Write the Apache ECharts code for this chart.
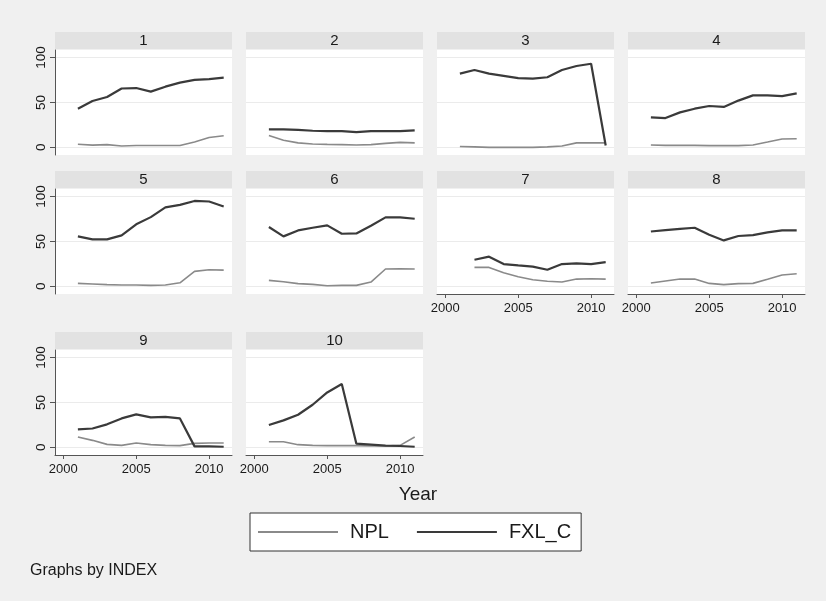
<!DOCTYPE html>
<html>
<head>
<meta charset="utf-8">
<script src="https://cdn.jsdelivr.net/npm/echarts@6/dist/echarts.min.js"></script>
<style>
html,body{margin:0;padding:0;background:#f0f0f0;}
#c{width:826px;height:601px;}
</style>
</head>
<body>
<div id="c"></div>
<script>
// ---- data ----
const years = [2001, 2002, 2003, 2004, 2005, 2006, 2007, 2008, 2009, 2010, 2011];
const panelLabels = ['1', '2', '3', '4', '5', '6', '7', '8', '9', '10'];
const npl1 = [3.5, 2.5, 3, 1.5, 2, 2, 2, 2, 6, 11, 13];
const fxl1 = [43, 51.5, 56, 65.5, 66, 62, 67.5, 72, 75, 76, 77.5];
const npl2 = [13.3, 8, 5, 3.7, 3.3, 3, 2.6, 3, 4.4, 5.5, 5];
const fxl2 = [20, 20, 19.5, 18.5, 18, 18, 17, 18, 18, 18, 19];
const npl3 = [1, 0.5, 0, 0, 0, 0, 0.5, 1.5, 5, 5, 5];
const fxl3 = [82, 86, 82, 79.5, 77, 76.5, 78, 86, 90.5, 93, 2];
const npl4 = [2.6, 2.2, 2.2, 2.2, 1.9, 1.9, 1.9, 2.6, 5.9, 9.3, 9.6];
const fxl4 = [33.3, 32.6, 38.9, 43, 46, 45, 52, 57.8, 57.8, 57, 60];
const npl5 = [3.3, 2.6, 1.9, 1.5, 1.5, 1.1, 1.5, 4, 16.7, 18.5, 18.1];
const fxl5 = [55.6, 52.2, 52.2, 56.7, 69, 77, 87.8, 90.7, 95, 94.4, 88.9];
const npl6 = [6.7, 5.2, 3, 2.2, 0.7, 1.1, 1.1, 4.8, 19.3, 19.6, 19.3];
const fxl6 = [66, 55.6, 62.2, 65.2, 67.8, 58.5, 58.9, 67.4, 76.7, 76.7, 75.2];
const npl7 = [null, 21.1, 21.1, 15.2, 10.7, 7.4, 5.6, 4.8, 8.1, 8.5, 8.1];
const fxl7 = [null, 29.6, 33, 24.8, 23.3, 21.9, 18.5, 24.8, 25.6, 24.8, 27];
const npl8 = [3.7, 5.9, 8.1, 8.1, 3.3, 1.9, 3, 3.3, 7.8, 12.6, 14];
const fxl8 = [61, 62.6, 64, 65.2, 57.4, 51.1, 56, 57, 60, 62.2, 62.2];
const npl9 = [11.5, 7.8, 3.3, 2.2, 4.8, 3, 2.2, 1.9, 4.4, 4.8, 4.8];
const fxl9 = [20, 21, 25.6, 32.2, 36.7, 33.3, 34, 32.2, 1.1, 1.1, 0.7];
const npl10 = [6.3, 6.3, 3, 2.2, 1.9, 1.9, 1.9, 1.5, 1.5, 2.2, 11.5];
const fxl10 = [24.8, 30, 36.3, 47.4, 61.1, 70.4, 4.1, 3, 1.9, 1.5, 0.7];
const yTicks = [0, 50, 100];
const xTicks = [2000, 2005, 2010];
const seriesNames = ['NPL', 'FXL_C'];
const xAxisTitle = 'Year';
const noteText = 'Graphs by INDEX';

const nplAll = [npl1, npl2, npl3, npl4, npl5, npl6, npl7, npl8, npl9, npl10];
const fxlAll = [fxl1, fxl2, fxl3, fxl4, fxl5, fxl6, fxl7, fxl8, fxl9, fxl10];

// ---- layout ----
const colLeft = [55, 246, 437, 628];
const panelW = 177;
const rowTop = [50, 189, 350];
const plotH = 105;
const stripH = 17;
const yMin = -8.5, yMax = 108.3;
const xMin = 1999.43, xMax = 2011.57;
const NPL_COLOR = '#8a8a8a';
const FXL_COLOR = '#3a3a3a';
const TXT = '#1a1a1a';
const FONT = '"Liberation Sans", Arial, sans-serif';

const grids = [], xAxes = [], yAxes = [], series = [], graphics = [];
const xAxisShown = [6, 7, 8, 9];

panelLabels.forEach((lab, i) => {
  const r = Math.floor(i / 4), c = i % 4;
  const left = colLeft[c], top = rowTop[r];
  grids.push({left: left, top: top, width: panelW, height: plotH, show: true,
    backgroundColor: '#ffffff', borderWidth: 0, containLabel: false});
  const showX = xAxisShown.indexOf(i) >= 0;
  const showY = c === 0;
  xAxes.push({type: 'value', gridIndex: i, min: xMin, max: xMax,
    axisLine: {show: showX, onZero: false, lineStyle: {color: '#555', width: 1}},
    axisTick: {show: showX, customValues: xTicks, length: 4, lineStyle: {color: '#555'}},
    axisLabel: {show: showX, customValues: xTicks, margin: 8, fontSize: 13, color: TXT,
      fontFamily: FONT, formatter: v => String(v)},
    splitLine: {show: false}});
  yAxes.push({type: 'value', gridIndex: i, min: yMin, max: yMax,
    axisLine: {show: showY, lineStyle: {color: '#555', width: 1}},
    axisTick: {show: showY, customValues: yTicks, length: 5, lineStyle: {color: '#555'}},
    axisLabel: {show: showY, customValues: yTicks, rotate: 90, margin: 7, fontSize: 13.5, color: TXT,
      fontFamily: FONT, formatter: v => String(v)},
    splitLine: {show: true, lineStyle: {color: '#ebebeb', width: 1}}});
  series.push({name: seriesNames[0], type: 'line', xAxisIndex: i, yAxisIndex: i,
    data: years.map((y, k) => [y, nplAll[i][k]]), showSymbol: false, symbol: 'none',
    connectNulls: false, lineStyle: {color: NPL_COLOR, width: 1.6}, itemStyle: {color: NPL_COLOR},
    animation: false, silent: true});
  series.push({name: seriesNames[1], type: 'line', xAxisIndex: i, yAxisIndex: i,
    data: years.map((y, k) => [y, fxlAll[i][k]]), showSymbol: false, symbol: 'none',
    connectNulls: false, lineStyle: {color: FXL_COLOR, width: 2.2}, itemStyle: {color: FXL_COLOR},
    animation: false, silent: true});
  graphics.push({type: 'rect', left: left, top: top - stripH - 1,
    shape: {width: panelW, height: stripH}, style: {fill: '#e2e2e2'}, silent: true});
  graphics.push({type: 'text', x: left + panelW / 2, y: top - stripH / 2 - 1,
    style: {text: lab, fill: TXT, font: '15px ' + FONT,
      textAlign: 'center', textVerticalAlign: 'middle'}, silent: true});
});

graphics.push({type: 'text', x: 418, y: 495,
  style: {text: xAxisTitle, fill: TXT, font: '19px ' + FONT,
    textAlign: 'center', textVerticalAlign: 'middle'}});
graphics.push({type: 'text', x: 30, y: 571,
  style: {text: noteText, fill: TXT, font: '16px ' + FONT,
    textAlign: 'left', textVerticalAlign: 'middle'}});

const chart = echarts.init(document.getElementById('c'), null, {renderer: 'canvas'});
chart.setOption({
  backgroundColor: '#f0f0f0',
  animation: false,
  grid: grids,
  xAxis: xAxes,
  yAxis: yAxes,
  series: series,
  legend: {
    left: 250, top: 513, orient: 'horizontal',
    data: [
      {name: seriesNames[0], itemStyle: {color: NPL_COLOR}},
      {name: seriesNames[1], itemStyle: {color: FXL_COLOR}}
    ],
    icon: 'rect', itemWidth: 80, itemHeight: 2, itemGap: 28,
    backgroundColor: '#ffffff', borderColor: '#333333', borderWidth: 1,
    padding: [9, 10, 9, 8],
    textStyle: {fontSize: 20, color: TXT, fontFamily: FONT, padding: [0, 0, 0, 7]},
    selectedMode: false
  },
  graphic: graphics
});
</script>
</body>
</html>
